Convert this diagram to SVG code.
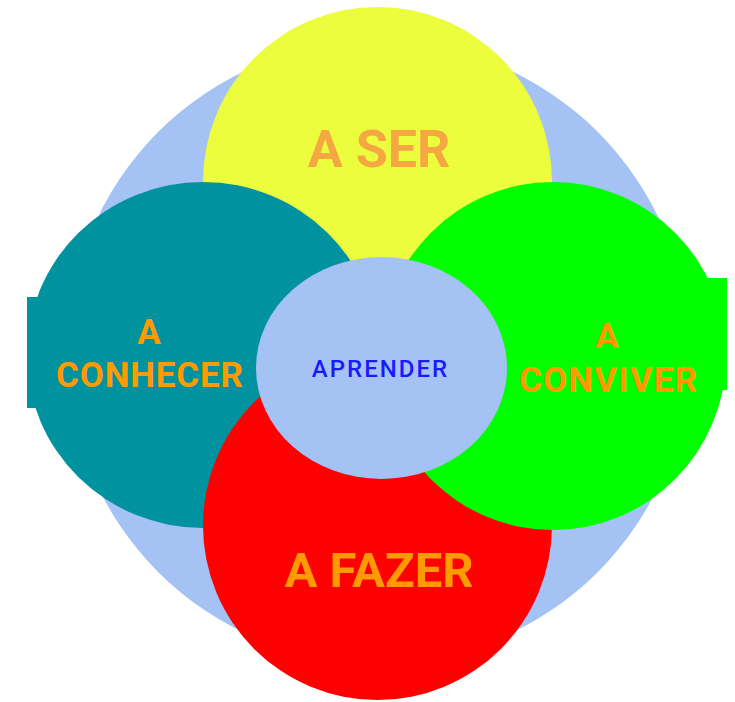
<svg xmlns="http://www.w3.org/2000/svg" width="735" height="702" viewBox="0 0 735 702">
  <style>
    .lbl { font-family: Roboto, "Liberation Sans", sans-serif; font-weight: bold; text-anchor: middle; fill: #FF9A00; }
    .center { font-family: Roboto, "Liberation Sans", sans-serif; font-weight: 500; text-anchor: middle; fill: #1A1AFF; }
  </style>
  <rect width="735" height="702" fill="#FFFFFF"/>
  <g id="background">
    <circle cx="378" cy="352" r="311" fill="#A4C2F4"/>
  </g>
  <g id="node-ser">
    <circle cx="377.5" cy="181.5" r="174.5" fill="#EBFD3D"/>
    <text class="lbl" x="379" y="167" font-size="52" style="fill:#F5A842">A SER</text>
  </g>
  <g id="node-conhecer">
    <ellipse cx="203" cy="355" rx="176" ry="173" fill="#00939F"/>
    <rect x="27" y="297" width="30" height="111" fill="#00939F"/>
    <text class="lbl" x="149" y="344" font-size="35">A</text>
    <text class="lbl" x="149.5" y="387" font-size="35" textLength="187" lengthAdjust="spacing">CONHECER</text>
  </g>
  <g id="node-fazer">
    <circle cx="377.5" cy="525.5" r="174.5" fill="#FF0000"/>
    <text class="lbl" x="379" y="587" font-size="49">A FAZER</text>
  </g>
  <g id="node-conviver">
    <ellipse cx="553" cy="356" rx="173" ry="174" fill="#00FF00"/>
    <rect x="697" y="278" width="30" height="112" fill="#00FF00"/>
    <text class="lbl" x="607" y="348" font-size="35">A</text>
    <text class="lbl" x="608" y="392" font-size="35" textLength="178" lengthAdjust="spacing">CONVIVER</text>
  </g>
  <g id="node-aprender">
    <ellipse cx="381.5" cy="368" rx="125.5" ry="111" fill="#A4C2F4"/>
    <text class="center" x="380.5" y="377" font-size="24" letter-spacing="2">APRENDER</text>
  </g>
</svg>
